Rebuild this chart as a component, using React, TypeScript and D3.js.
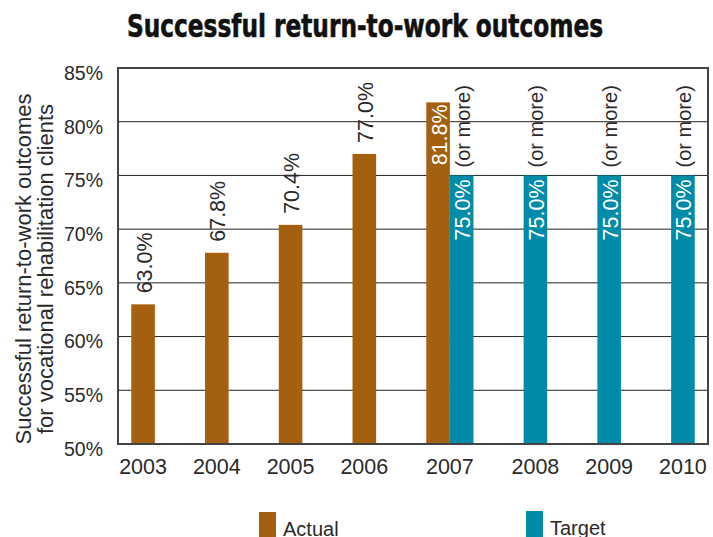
import React from "react";
import * as d3 from "d3";

const years = ["2003", "2004", "2005", "2006", "2007", "2008", "2009", "2010"];
const actual: (number | null)[] = [63.0, 67.8, 70.4, 77.0, 81.8, null, null, null];
const target: (number | null)[] = [null, null, null, null, 75.0, 75.0, 75.0, 75.0];
const yTicks = [50, 55, 60, 65, 70, 75, 80, 85];
const seriesKeys = ["Actual", "Target"];
const title = "Successful return-to-work outcomes";
const yTitle1 = "Successful return-to-work outcomes";
const yTitle2 = "for vocational rehabilitation clients";

const W = 713, H = 537;
const M = { left: 118, right: 5, top: 68, bottom: 93 };
const BROWN = "#a5600f";
const TEAL = "#008ba8";
const FONT = "'Liberation Sans', Arial, Helvetica, sans-serif";
const INK = "#2a2a2a";

export default function App() {
  const x0 = d3.scaleBand<string>().domain(years).range([M.left, W - M.right]).paddingInner(0.36).paddingOuter(0.18);
  const x1 = d3.scaleBand<string>().domain(seriesKeys).range([0, x0.bandwidth()]);
  const y = d3.scaleLinear().domain([50, 85]).range([H - M.bottom, M.top]);
  const bw = x1.bandwidth();
  const y0 = y(50);

  return (
    <div style={{ position: "absolute", left: 0, top: 0 }}>
      <svg width={W} height={H} style={{ display: "block", background: "#fff" }}>
        <text x={365} y={37} textAnchor="middle" fontFamily="'Liberation Sans Narrow', 'DejaVu Sans Condensed', 'Arial Narrow', sans-serif" fontWeight="bold" fontSize={32} textLength={476} lengthAdjust="spacingAndGlyphs" fill="#111" stroke="#111" strokeWidth={0.6}>{title}</text>

        {/* gridlines */}
        {yTicks.map((t) => (
          <line key={t} x1={M.left} x2={W - M.right} y1={y(t)} y2={y(t)} stroke="#222" strokeWidth={1} />
        ))}
        {/* y tick labels */}
        {yTicks.map((t) => (
          <text key={"l" + t} x={103} y={y(t) + 5} dy="0.35em" textAnchor="end" fontFamily={FONT} fontSize={19.5} fill={INK}>{t}%</text>
        ))}

        {/* y title */}
        <g transform={`translate(31,269) rotate(-90)`}>
          <text x={0} y={0} textAnchor="middle" fontFamily={FONT} fontSize={22} fill={INK}>{yTitle1}</text>
          <text x={0} y={22} textAnchor="middle" fontFamily={FONT} fontSize={22} fill={INK}>{yTitle2}</text>
        </g>

        {/* bars */}
        {years.map((yr, i) => {
          const gx = x0(yr)!;
          const a = actual[i];
          const t = target[i];
          const els: React.ReactNode[] = [];
          if (a != null) {
            const bx = gx + x1("Actual")!;
            const cx = bx + bw / 2;
            els.push(<rect key="a" x={bx} y={y(a)} width={bw} height={y0 - y(a)} fill={BROWN} />);
            const inside = t != null;
            els.push(
              <text key="al" transform={`translate(${cx + 1},${inside ? y(a) + 2 : y(a) - 11}) rotate(-90)`} dy="0.35em" textAnchor={inside ? "end" : "start"} fontFamily={FONT} fontSize={21.5} fill={inside ? "#fff" : INK}>{a.toFixed(1)}%</text>
            );
          }
          if (t != null) {
            const bx = gx + x1("Target")!;
            const cx = bx + bw / 2;
            els.push(<rect key="t" x={bx} y={y(t)} width={bw} height={y0 - y(t)} fill={TEAL} />);
            els.push(
              <text key="tl" transform={`translate(${cx + 1},${y(t) + 4}) rotate(-90)`} dy="0.35em" textAnchor="end" fontFamily={FONT} fontSize={21.5} fill="#fff">{t.toFixed(1)}%</text>
            );
            els.push(
              <text key="tm" transform={`translate(${cx + 1},${y(t) - 8}) rotate(-90)`} dy="0.35em" textAnchor="start" fontFamily={FONT} fontSize={20} fill={INK}>(or more)</text>
            );
          }
          const centers: number[] = [];
          if (a != null) centers.push(gx + x1("Actual")! + bw / 2);
          if (t != null) centers.push(gx + x1("Target")! + bw / 2);
          const lx = d3.mean(centers)!;
          els.push(
            <text key="yl" x={lx} y={474} textAnchor="middle" fontFamily={FONT} fontSize={21.5} fill={INK}>{yr}</text>
          );
          return <g key={yr}>{els}</g>;
        })}

        {/* plot border */}
        <rect x={M.left} y={M.top} width={W - M.right - M.left} height={y0 - M.top} fill="none" stroke="#444" strokeWidth={2} />

        {/* legend */}
        <rect x={259} y={512} width={17} height={30} fill={BROWN} />
        <text x={283} y={536} fontFamily={FONT} fontSize={20} fill={INK}>Actual</text>
        <rect x={526} y={511} width={17} height={30} fill={TEAL} />
        <text x={550} y={535} fontFamily={FONT} fontSize={20} fill={INK}>Target</text>
      </svg>
    </div>
  );
}
